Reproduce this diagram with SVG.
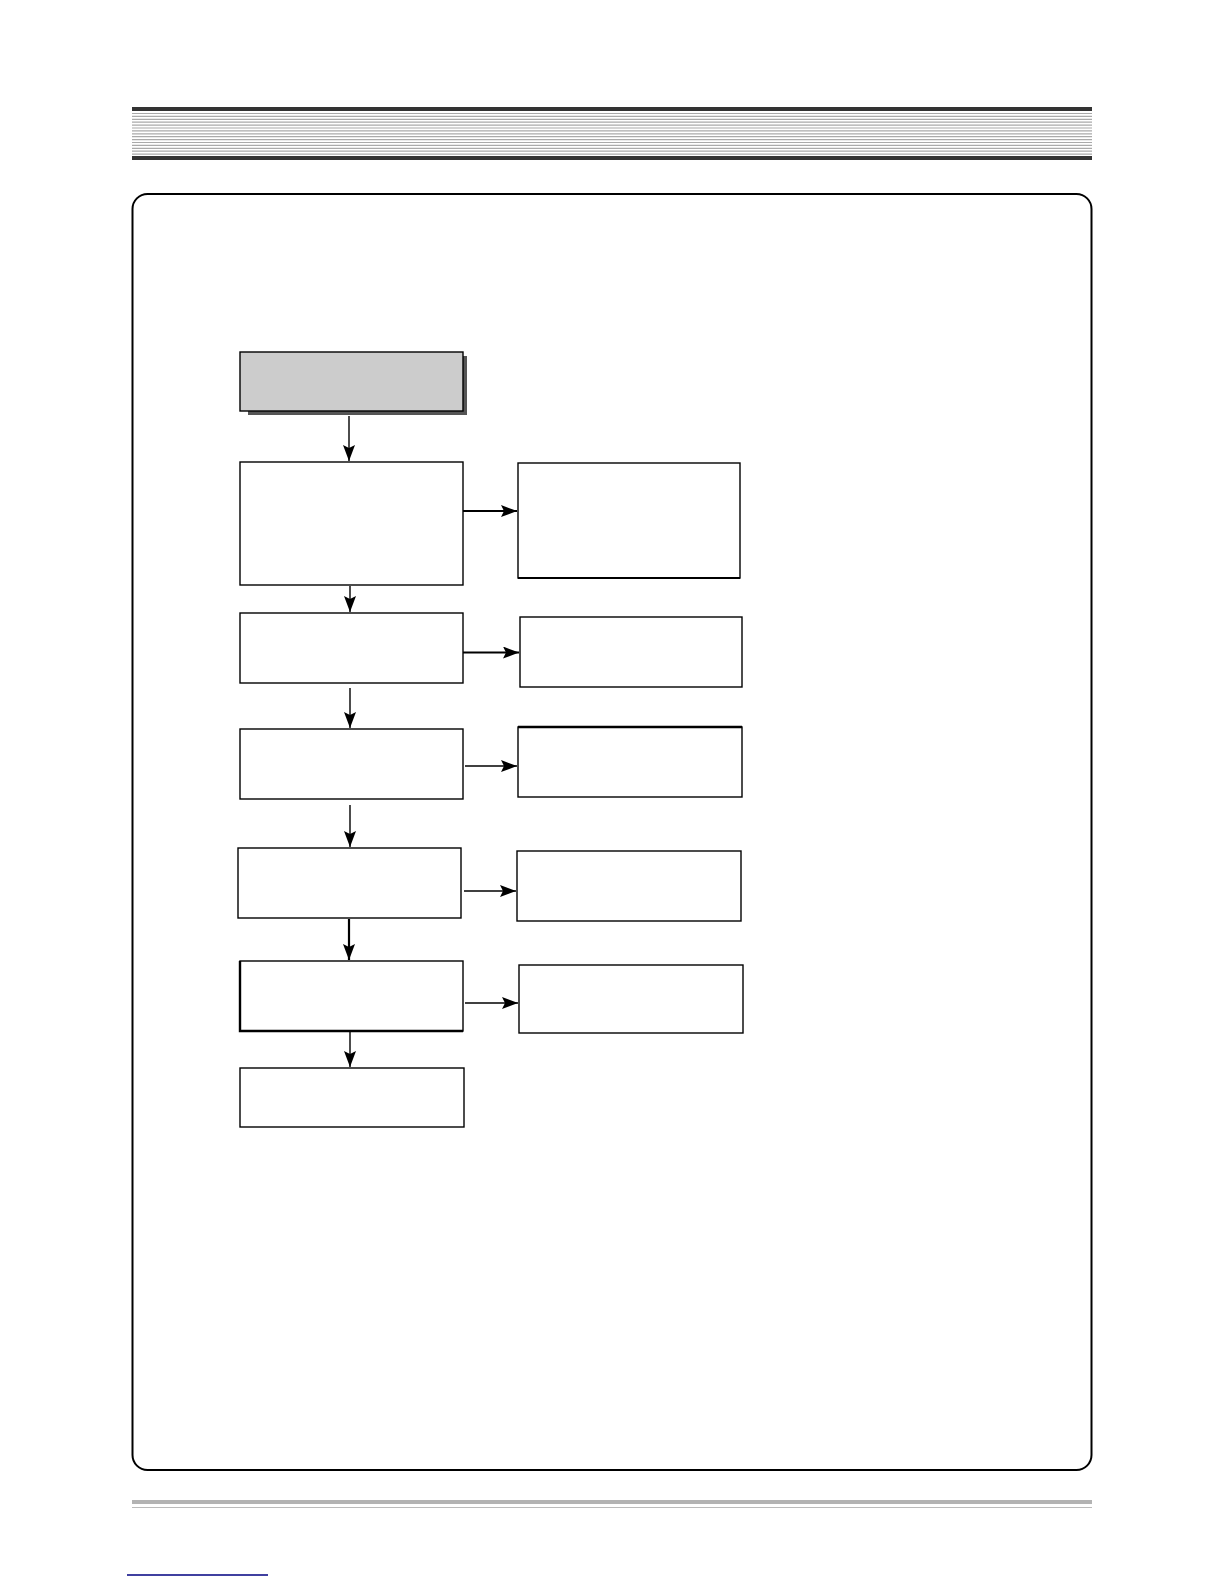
<svg xmlns="http://www.w3.org/2000/svg" width="1224" height="1584" viewBox="0 0 1224 1584">
<style>
.box{fill:#ffffff;stroke:#000;stroke-width:1.4}
.conn{stroke:#000;stroke-width:1.4;fill:none}
.thick{stroke-width:2.2}
.stripe{stroke:#aaaaaa;stroke-width:1.2}
</style>
<defs>
<marker id="ah" markerUnits="userSpaceOnUse" markerWidth="18" markerHeight="14" refX="16" refY="6" orient="auto">
<path d="M0,0 L16,6 L0,12 L3,6 z" fill="#000"/>
</marker>
</defs>
<rect width="1224" height="1584" fill="#fff"/>
<g id="header">
<rect x="132" y="107" width="960" height="4" fill="#333"/>
<g class="stripe">
<line x1="132" y1="113.5" x2="1092" y2="113.5"/>
<line x1="132" y1="116.4" x2="1092" y2="116.4"/>
<line x1="132" y1="119.3" x2="1092" y2="119.3"/>
<line x1="132" y1="122.2" x2="1092" y2="122.2"/>
<line x1="132" y1="125.1" x2="1092" y2="125.1"/>
<line x1="132" y1="128.0" x2="1092" y2="128.0"/>
<line x1="132" y1="130.9" x2="1092" y2="130.9"/>
<line x1="132" y1="133.8" x2="1092" y2="133.8"/>
<line x1="132" y1="136.7" x2="1092" y2="136.7"/>
<line x1="132" y1="139.6" x2="1092" y2="139.6"/>
<line x1="132" y1="142.5" x2="1092" y2="142.5"/>
<line x1="132" y1="145.4" x2="1092" y2="145.4"/>
<line x1="132" y1="148.3" x2="1092" y2="148.3"/>
<line x1="132" y1="151.2" x2="1092" y2="151.2"/>
<line x1="132" y1="154.1" x2="1092" y2="154.1"/>
</g>
<rect x="132" y="156" width="960" height="4" fill="#333"/>
</g>
<rect id="frame" x="132.5" y="194" width="959" height="1276" rx="15" ry="15" fill="none" stroke="#000" stroke-width="2"/>
<g id="footer">
<rect x="132" y="1500" width="960" height="4" fill="#b3b3b3"/>
<line x1="132" y1="1507.5" x2="1092" y2="1507.5" stroke="#bbbbbb" stroke-width="1"/>
<line x1="127" y1="1575" x2="268" y2="1575" stroke="#000080" stroke-width="1.3"/>
</g>
<g id="n1">
<rect x="248" y="356" width="219" height="59" fill="#555"/>
<rect x="240" y="352" width="223" height="59" fill="#cccccc" stroke="#000" stroke-width="1.4"/>
</g>
<g id="n2"><rect class="box" x="240" y="462" width="223" height="123"/></g>
<g id="n3"><rect class="box" x="518" y="463" width="222" height="115"/><line x1="518" y1="578" x2="740" y2="578" stroke="#000" stroke-width="2.2"/></g>
<g id="n4"><rect class="box" x="240" y="613" width="223" height="70"/></g>
<g id="n5"><rect class="box" x="520" y="617" width="222" height="70"/></g>
<g id="n6"><rect class="box" x="240" y="729" width="223" height="70"/></g>
<g id="n7"><rect class="box" x="518" y="727" width="224" height="70"/><line x1="518" y1="727" x2="742" y2="727" stroke="#000" stroke-width="2.4"/></g>
<g id="n8"><rect class="box" x="238" y="848" width="223" height="70"/></g>
<g id="n9"><rect class="box" x="517" y="851" width="224" height="70"/></g>
<g id="n10"><rect class="box" x="240" y="961" width="223" height="70"/><path d="M240,961 L240,1031 L463,1031" fill="none" stroke="#000" stroke-width="2.4"/></g>
<g id="n11"><rect class="box" x="519" y="965" width="224" height="68"/></g>
<g id="n12"><rect class="box" x="240" y="1068" width="224" height="59"/></g>
<g id="connectors">
<line class="conn" x1="349" y1="416" x2="349" y2="461" marker-end="url(#ah)"/>
<line class="conn" x1="350" y1="586" x2="350" y2="612" marker-end="url(#ah)"/>
<line class="conn" x1="350" y1="688" x2="350" y2="728" marker-end="url(#ah)"/>
<line class="conn" x1="350" y1="805" x2="350" y2="847" marker-end="url(#ah)"/>
<line class="conn thick" x1="349" y1="919" x2="349" y2="960" marker-end="url(#ah)"/>
<line class="conn" x1="350" y1="1031" x2="350" y2="1067" marker-end="url(#ah)"/>
<line class="conn thick" x1="463" y1="511" x2="517" y2="511" marker-end="url(#ah)"/>
<line class="conn thick" x1="463" y1="652.5" x2="519" y2="652.5" marker-end="url(#ah)"/>
<line class="conn" x1="465" y1="766" x2="517" y2="766" marker-end="url(#ah)"/>
<line class="conn" x1="464" y1="891" x2="516" y2="891" marker-end="url(#ah)"/>
<line class="conn" x1="465" y1="1003" x2="518" y2="1003" marker-end="url(#ah)"/>
</g>
</svg>
